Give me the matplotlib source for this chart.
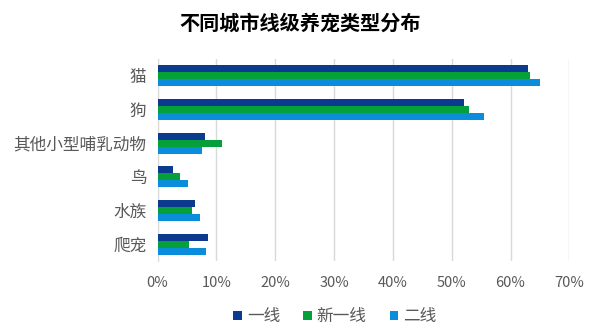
import numpy as np
import matplotlib.pyplot as plt
from matplotlib.ticker import PercentFormatter

plt.rcParams['font.family'] = ['Noto Sans CJK SC', 'DejaVu Sans']

# 养宠类型与各线级城市占比
categories = ['猫', '狗', '其他小型哺乳动物', '鸟', '水族', '爬宠']
series_names = ['一线', '新一线', '二线']
tier1 = [0.630, 0.521, 0.081, 0.026, 0.064, 0.086]
new_tier1 = [0.633, 0.530, 0.110, 0.038, 0.059, 0.054]
tier2 = [0.650, 0.555, 0.075, 0.051, 0.073, 0.083]
colors = ['#0B3A8F', '#06A03B', '#0A8DDB']

fig = plt.figure(figsize=(6, 3.35), dpi=100)
ax = fig.add_axes([0.2625, 0.221, 0.949 - 0.2625, 0.603])

y = np.arange(len(categories))
h = 0.21
for i, (vals, name, c) in enumerate(zip([tier1, new_tier1, tier2], series_names, colors)):
    ax.barh(y + (i - 1) * h, vals, height=h, color=c, label=name, zorder=3)

ax.set_ylim(len(categories) - 0.5, -0.5)
ax.set_xlim(0, 0.7)
ax.set_xticks(np.arange(0, 0.71, 0.1))
ax.xaxis.set_major_formatter(PercentFormatter(1.0, decimals=0))
ax.set_yticks(y)
ax.set_yticklabels(categories)
ax.grid(axis='x', color='#D9D9D9', linewidth=1, zorder=0)
for s in ['top', 'right', 'bottom']:
    ax.spines[s].set_visible(False)
ax.spines['left'].set_color('#D9D9D9')
ax.tick_params(axis='both', length=0, colors='#595959')
ax.tick_params(axis='x', pad=11, labelsize=10.5)
ax.tick_params(axis='y', pad=8, labelsize=12)

fig.text(0.5, 0.93, '不同城市线级养宠类型分布', ha='center', va='center',
         fontsize=14.5, fontweight='bold', color='black')

ax.legend(loc='center', bbox_to_anchor=(335 / 600, 1 - 317 / 335), bbox_transform=fig.transFigure,
          ncol=3, frameon=False, fontsize=12, labelcolor='#595959',
          handlelength=0.5, handleheight=0.5, handletextpad=0.3, columnspacing=1.4)

fig.savefig('out.png', dpi=100)
